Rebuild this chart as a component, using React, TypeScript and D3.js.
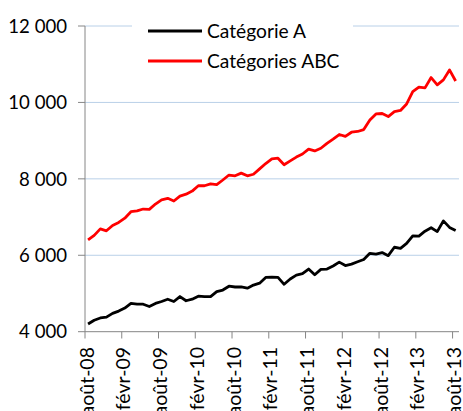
import React, { useEffect, useRef } from "react";
import * as d3 from "d3";

// monthly values, août-08 .. août-13
const months = d3.timeMonth.range(new Date(2008, 7, 1), new Date(2013, 8, 1));
const categorieA = [
  4200, 4300, 4360, 4380, 4480, 4540, 4620, 4740, 4720, 4720, 4660, 4740, 4790, 4850, 4790, 4920,
  4810, 4850, 4930, 4920, 4920, 5050, 5090, 5190, 5170, 5170, 5140, 5220, 5270, 5420, 5430, 5420,
  5240, 5380, 5480, 5520, 5640, 5490, 5630, 5640, 5720, 5820, 5730, 5770, 5830, 5890, 6050, 6030,
  6070, 5990, 6210, 6180, 6310, 6510, 6500, 6630, 6720, 6620, 6900, 6730, 6650,
];
const categoriesABC = [
  6400, 6520, 6690, 6640, 6780, 6860, 6970, 7140, 7160, 7210, 7200, 7340, 7450, 7490, 7420, 7550,
  7600, 7680, 7820, 7820, 7870, 7850, 7970, 8100, 8080, 8150, 8080, 8120, 8260, 8400, 8520, 8540,
  8370, 8470, 8570, 8650, 8780, 8730, 8800, 8930, 9040, 9160, 9110, 9220, 9240, 9290, 9540, 9700,
  9710, 9630, 9760, 9790, 9960, 10280, 10400, 10380, 10650, 10460, 10590, 10850, 10560,
];
const tickLabels = [
  "août-08", "févr-09", "août-09", "févr-10", "août-10", "févr-11",
  "août-11", "févr-12", "août-12", "févr-13", "août-13",
];
const yTicks = [4000, 6000, 8000, 10000, 12000];
const seriesNames = ["Catégorie A", "Catégories ABC"];
const seriesColors = ["#000000", "#ff0000"];

const FONT = "Lato, 'Open Sans', sans-serif";

export default function App() {
  const ref = useRef<SVGSVGElement>(null);

  useEffect(() => {
    const width = 463;
    const height = 411;
    const svg = d3.select(ref.current).attr("width", width).attr("height", height);
    svg.selectAll("*").remove();

    const x = d3.scaleBand<number>().domain(d3.range(months.length)).range([85, 458.7]).paddingInner(0);
    const y = d3.scaleLinear().domain([4000, 12000]).range([331.7, 26]);
    const fmt = (v: number) => d3.format(",")(v).replace(",", " ");

    // gridlines
    svg.append("g").selectAll("line").data(yTicks.slice(1)).enter()
      .append("line")
      .attr("x1", 85).attr("x2", 459)
      .attr("y1", d => y(d)).attr("y2", d => y(d))
      .attr("stroke", "#b9d0e8").attr("stroke-width", 1);

    // y axis
    const yAxis = svg.append("g");
    yAxis.append("line").attr("x1", 85).attr("x2", 85).attr("y1", y(12000)).attr("y2", y(4000))
      .attr("stroke", "#868686");
    yAxis.selectAll("line.t").data(yTicks).enter().append("line").attr("class", "t")
      .attr("x1", 78).attr("x2", 85).attr("y1", d => y(d)).attr("y2", d => y(d))
      .attr("stroke", "#868686");
    yAxis.selectAll("text").data(yTicks).enter().append("text")
      .attr("x", 67).attr("y", d => y(d)).attr("dy", "0.36em")
      .attr("text-anchor", "end").style("font-family", FONT).style("font-size", "18.6px")
      .attr("fill", "#000").text(d => fmt(d));

    // x axis
    const tickIdx = d3.range(0, months.length, 6);
    const xAxis = svg.append("g");
    xAxis.append("line").attr("x1", 85).attr("x2", 459).attr("y1", 331.7).attr("y2", 331.7)
      .attr("stroke", "#868686");
    xAxis.selectAll("line.t").data(tickIdx).enter().append("line").attr("class", "t")
      .attr("x1", d => x(d)!).attr("x2", d => x(d)!).attr("y1", 331.7).attr("y2", 338.5)
      .attr("stroke", "#868686");
    xAxis.selectAll("text").data(tickIdx).enter().append("text")
      .attr("transform", d => `translate(${x(d)! + 1.5},347) rotate(-90)`)
      .attr("dy", "0.36em").attr("text-anchor", "end")
      .style("font-family", FONT).style("font-size", "19.5px").attr("fill", "#000")
      .text((d, i) => tickLabels[i]);

    // lines
    const line = d3.line<number>()
      .x((d, i) => x(i)! + x.bandwidth() / 2)
      .y(d => y(d));
    [categorieA, categoriesABC].forEach((s, k) => {
      svg.append("path").datum(s).attr("d", line).attr("fill", "none")
        .attr("stroke", seriesColors[k]).attr("stroke-width", 2.8).attr("stroke-linejoin", "round");
    });

    // legend
    const legend = svg.append("g");
    legend.append("rect").attr("x", 132).attr("y", 8).attr("width", 221).attr("height", 76).attr("fill", "#fff");
    seriesNames.forEach((name, k) => {
      const ly = 31 + k * 30;
      legend.append("line").attr("x1", 148).attr("x2", 202).attr("y1", ly).attr("y2", ly)
        .attr("stroke", seriesColors[k]).attr("stroke-width", 2.8);
      legend.append("text").attr("x", 207).attr("y", ly).attr("dy", "0.36em")
        .style("font-family", FONT).style("font-size", "19.2px").attr("fill", "#000").text(name);
    });
  }, []);

  return <svg ref={ref} style={{ position: "absolute", left: 0, top: 0 }}></svg>;
}
